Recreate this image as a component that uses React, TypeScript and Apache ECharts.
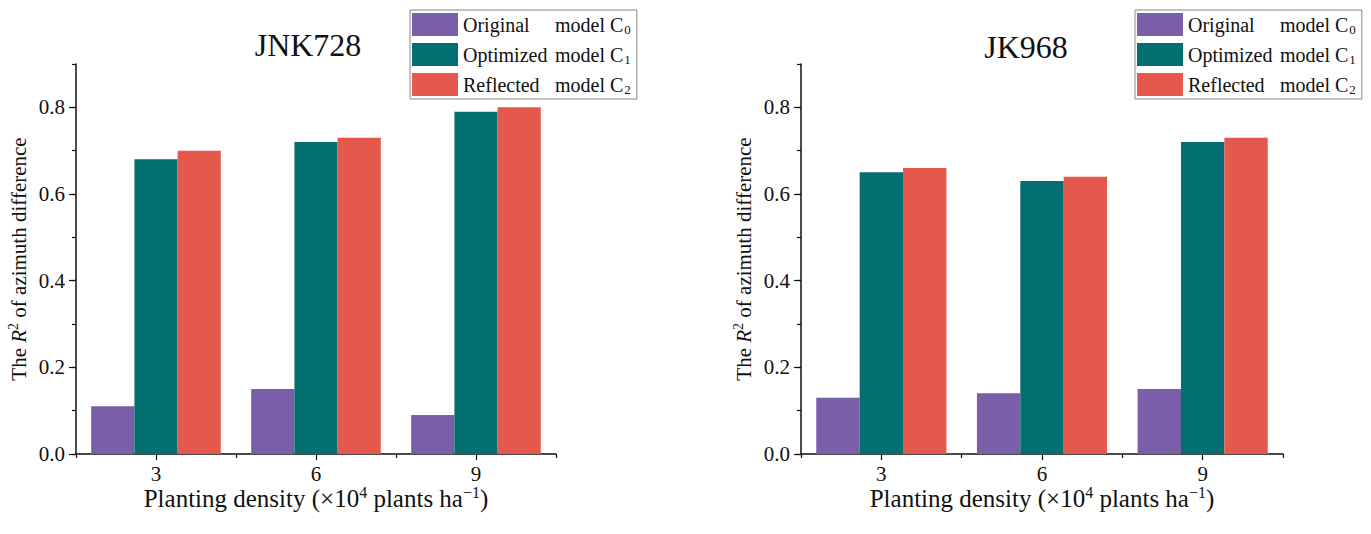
import React, { useEffect, useRef } from "react";
import * as echarts from "echarts";

const categories = ["3", "6", "9"];
const seriesNames = ["Original model C0", "Optimized model C1", "Reflected model C2"];
const jnkC0 = [0.11, 0.15, 0.09];
const jnkC1 = [0.68, 0.72, 0.79];
const jnkC2 = [0.70, 0.73, 0.80];
const jkC0 = [0.13, 0.14, 0.15];
const jkC1 = [0.65, 0.63, 0.72];
const jkC2 = [0.66, 0.64, 0.73];
const yLabelValues = [0, 0.2, 0.4, 0.6, 0.8];
const titles = ["JNK728", "JK968"];

const colors = ["#7B5EA8", "#046F70", "#E5594C"];
const FONT = "'Liberation Serif', 'Times New Roman', serif";

export default function App() {
  const ref = useRef<HTMLDivElement>(null);
  useEffect(() => {
    const chart = echarts.init(ref.current!, null, { renderer: "svg" });
    const grids = [
      { left: 76, top: 64, width: 480, height: 390 },
      { left: 801, top: 64, width: 482, height: 390 },
    ];
    const xAxis: any[] = [];
    const yAxis: any[] = [];
    const axisLine = { show: true, lineStyle: { color: "#111", width: 1.5 } };
    const subRich = {
      p: { fontSize: 14, fontFamily: FONT, color: "#111", padding: [0, 0, 11, 0] },
      i: { fontSize: 21, fontFamily: FONT, fontStyle: "italic", color: "#111" },
      n: { fontSize: 21, fontFamily: FONT, color: "#111" },
    };
    grids.forEach((g, gi) => {
      xAxis.push({
        type: "category",
        gridIndex: gi,
        data: categories,
        position: "bottom",
        axisLine,
        axisTick: { show: true, alignWithLabel: true, length: 6, lineStyle: { color: "#111", width: 1.2 } },
        axisLabel: { fontFamily: FONT, fontSize: 21, color: "#111", margin: 9 },
        name: "{n|Planting density (×10}{p|4}{n| plants ha}{p|−1}{n|)}",
        nameLocation: "middle",
        nameGap: 30,
        nameMoveOverlap: false,
        nameTextStyle: {
          fontFamily: FONT,
          fontSize: 25,
          color: "#111",
          rich: {
            n: { fontSize: 25, fontFamily: FONT, color: "#111" },
            p: { fontSize: 16, fontFamily: FONT, color: "#111", padding: [0, 0, 13, 0] },
          },
        },
      });
      xAxis.push({
        type: "category",
        gridIndex: gi,
        data: categories,
        position: "bottom",
        axisLine: { show: false },
        axisTick: { show: true, length: 4, lineStyle: { color: "#111", width: 1.2 } },
        axisLabel: { show: false },
      });
      yAxis.push({
        type: "value",
        gridIndex: gi,
        position: "left",
        min: 0,
        max: 0.9,
        interval: 0.1,
        axisLine,
        splitLine: { show: false },
        axisTick: { show: true, length: 4, lineStyle: { color: "#111", width: 1.2 } },
        axisLabel: {
          fontFamily: FONT,
          fontSize: 21,
          color: "#111",
          margin: 11,
          customValues: yLabelValues,
          formatter: (v: number) => v.toFixed(1),
        },
        name: "{n|The }{i|R}{p|2}{n| of azimuth difference}",
        nameLocation: "middle",
        nameGap: 45,
        nameMoveOverlap: false,
        nameTextStyle: { fontFamily: FONT, fontSize: 21, color: "#111", rich: subRich },
      });
      yAxis.push({
        type: "value",
        gridIndex: gi,
        position: "left",
        min: 0,
        max: 0.9,
        interval: 0.1,
        axisLine: { show: false },
        splitLine: { show: false },
        axisTick: { show: true, length: 7, customValues: yLabelValues, lineStyle: { color: "#111", width: 1.2 } },
        axisLabel: { show: false },
      });
    });

    const data = [
      [jnkC0, jnkC1, jnkC2],
      [jkC0, jkC1, jkC2],
    ];
    const series: any[] = [];
    data.forEach((set, gi) => {
      set.forEach((vals, si) => {
        series.push({
          type: "bar",
          name: seriesNames[si],
          xAxisIndex: gi * 2,
          yAxisIndex: gi * 2,
          data: vals,
          barGap: "0%",
          barCategoryGap: "19%",
          itemStyle: { color: colors[si] },
        });
      });
    });

    const legendFormatter = (name: string) => {
      if (name === seriesNames[0]) return "{w|Original}{t|model C}{s|0}";
      if (name === seriesNames[1]) return "{w|Optimized}{t|model C}{s|1}";
      return "{w|Reflected}{t|model C}{s|2}";
    };
    const legendBase = {
      orient: "vertical",
      top: 10,
      icon: "rect",
      itemWidth: 46,
      itemHeight: 23,
      itemGap: 7,
      borderColor: "#888",
      borderWidth: 1,
      padding: [3, 6, 3, 2],
      data: seriesNames,
      formatter: legendFormatter,
      textStyle: {
        fontFamily: FONT,
        fontSize: 20,
        color: "#111",
        rich: {
          w: { width: 92, fontSize: 20, fontFamily: FONT, color: "#111" },
          t: { fontSize: 20, fontFamily: FONT, color: "#111" },
          s: { fontSize: 13, fontFamily: FONT, color: "#111", padding: [10, 0, 0, 1] },
        },
      },
    };

    chart.setOption({
      animation: false,
      backgroundColor: "#fff",
      textStyle: { fontFamily: FONT },
      grid: grids,
      xAxis,
      yAxis,
      series,
      legend: [
        { ...legendBase, left: 410 },
        { ...legendBase, left: 1135 },
      ],
      graphic: [
        {
          type: "text",
          x: 308,
          y: 45,
          style: { text: titles[0], fontFamily: FONT, fontSize: 32, fill: "#111", textAlign: "center", textVerticalAlign: "middle" },
        },
        {
          type: "text",
          x: 1026,
          y: 47,
          style: { text: titles[1], fontFamily: FONT, fontSize: 32, fill: "#111", textAlign: "center", textVerticalAlign: "middle" },
        },
      ],
    });
    return () => chart.dispose();
  }, []);
  return <div ref={ref} style={{ position: "absolute", left: 0, top: 0, width: 1371, height: 534 }} />;
}
